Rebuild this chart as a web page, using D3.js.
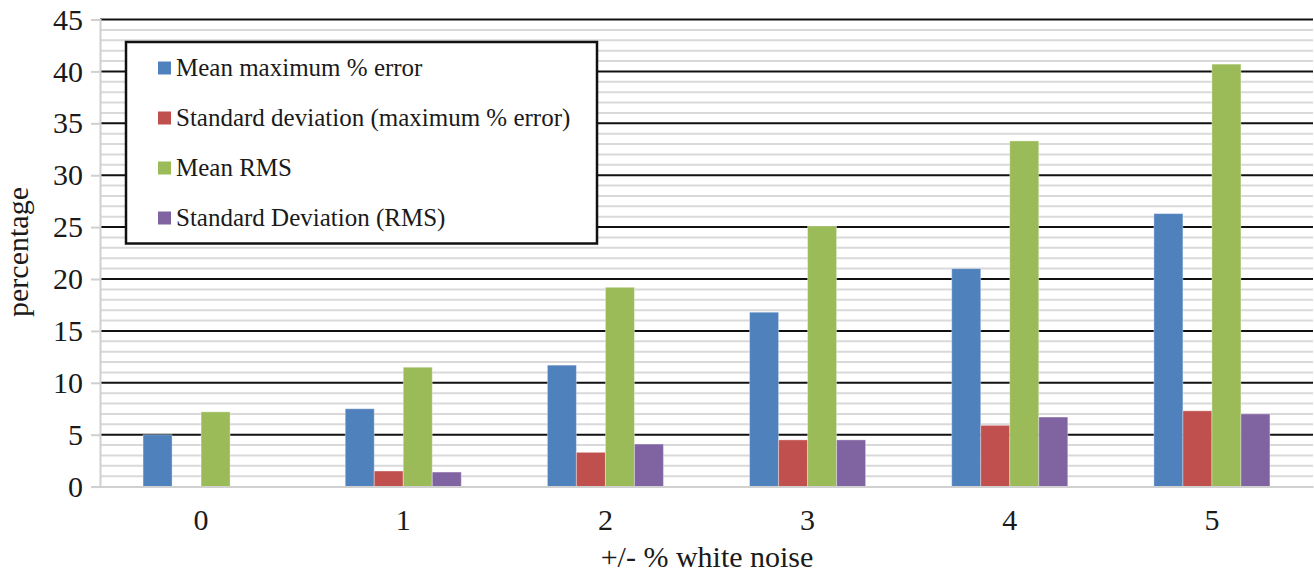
<!DOCTYPE html>
<html><head><meta charset="utf-8">
<script src="https://cdn.jsdelivr.net/npm/d3@7"></script>
<style>body{margin:0;background:#fff}svg{display:block}</style>
</head><body>
<svg id="c" width="1314" height="575"></svg>
<script>
const categories = ["0","1","2","3","4","5"];
const seriesNames = ["Mean maximum % error","Standard deviation (maximum % error)","Mean RMS","Standard Deviation (RMS)"];
const meanMaxErr = [5.0, 7.5, 11.7, 16.8, 21.0, 26.3];
const sdMaxErr   = [0, 1.5, 3.3, 4.5, 5.9, 7.3];
const meanRMS    = [7.2, 11.5, 19.2, 25.1, 33.3, 40.7];
const sdRMS      = [0, 1.4, 4.1, 4.5, 6.7, 7.0];
const yTicks = [0,5,10,15,20,25,30,35,40,45];
const colors = ["#4f81bd","#c0504d","#9bbb59","#8064a2"];
const series = [meanMaxErr, sdMaxErr, meanRMS, sdRMS];

const FONT = "Liberation Serif";
const svg = d3.select("#c");
const L = 100, R = 1313, T = 19.5, B = 486.6;
const x = d3.scaleBand().domain(categories).range([L, R]).paddingInner(0.426).paddingOuter(0.213);
const xs = d3.scaleBand().domain(d3.range(4)).range([0, x.bandwidth()]);
const y = d3.scaleLinear().domain([0,45]).range([B, T]);

// minor grid
const minor = d3.range(1,45).filter(v => v % 5 !== 0);
svg.append("g").selectAll("line").data(minor).join("line")
  .attr("x1", L).attr("x2", R).attr("y1", d => y(d)).attr("y2", d => y(d))
  .attr("stroke", "#d9d9d9").attr("stroke-width", 2);
// major grid
svg.append("g").selectAll("line").data(yTicks.filter(v => v > 0)).join("line")
  .attr("x1", L).attr("x2", R).attr("y1", d => y(d)).attr("y2", d => y(d))
  .attr("stroke", "#111").attr("stroke-width", 2);

// y axis
const yAxis = svg.append("g").attr("transform", `translate(${L},0)`)
  .call(d3.axisLeft(y).tickValues(yTicks).tickSize(9).tickPadding(8));
yAxis.attr("font-family", FONT);
yAxis.select(".domain").attr("stroke", "#d0d0d0").attr("stroke-width", 2);
yAxis.selectAll(".tick line").attr("stroke", "#d0d0d0").attr("stroke-width", 2);
yAxis.selectAll("text").attr("font-family", FONT).attr("font-size", 30).attr("fill", "#1a1a1a");

// bars
const groups = svg.append("g").selectAll("g").data(categories).join("g")
  .attr("transform", d => `translate(${x(d)},0)`);
groups.selectAll("rect").data((d, i) => series.map((s, k) => ({k, v: s[i]})).filter(o => o.v > 0)).join("rect")
  .attr("x", o => xs(o.k)).attr("width", xs.bandwidth())
  .attr("y", o => y(o.v)).attr("height", o => B - y(o.v))
  .attr("fill", o => colors[o.k])
  .attr("stroke", "rgba(255,255,255,0.35)").attr("stroke-width", 1);

// x axis
const xAxis = svg.append("g").attr("transform", `translate(0,${B})`)
  .call(d3.axisBottom(x).tickSize(0).tickPadding(22));
xAxis.attr("font-family", FONT);
xAxis.select(".domain").attr("stroke", "#d0d0d0").attr("stroke-width", 2);
xAxis.selectAll("text").attr("font-family", FONT).attr("font-size", 30).attr("fill", "#1a1a1a");

// axis titles
svg.append("text").attr("x", 707).attr("y", 567).attr("text-anchor", "middle")
  .attr("font-family", FONT).attr("font-size", 30).attr("fill", "#1a1a1a")
  .text("+/- % white noise");
svg.append("text").attr("transform", "translate(28,252) rotate(-90)").attr("text-anchor", "middle")
  .attr("font-family", FONT).attr("font-size", 30).attr("fill", "#1a1a1a")
  .text("percentage");

// legend
const lg = svg.append("g");
lg.append("rect").attr("x", 126).attr("y", 42).attr("width", 471).attr("height", 201.5)
  .attr("fill", "#fff").attr("stroke", "#111").attr("stroke-width", 2.5);
const items = lg.selectAll("g.it").data(seriesNames).join("g").attr("class", "it")
  .attr("transform", (d, i) => `translate(158,${68 + i * 50})`);
items.append("rect").attr("x", 0).attr("y", -6.5).attr("width", 13).attr("height", 13)
  .attr("fill", (d, i) => colors[i]);
items.append("text").attr("x", 18).attr("y", 8).attr("font-family", FONT)
  .attr("font-size", 25).attr("fill", "#1a1a1a").text(d => d);
</script>
</body></html>
